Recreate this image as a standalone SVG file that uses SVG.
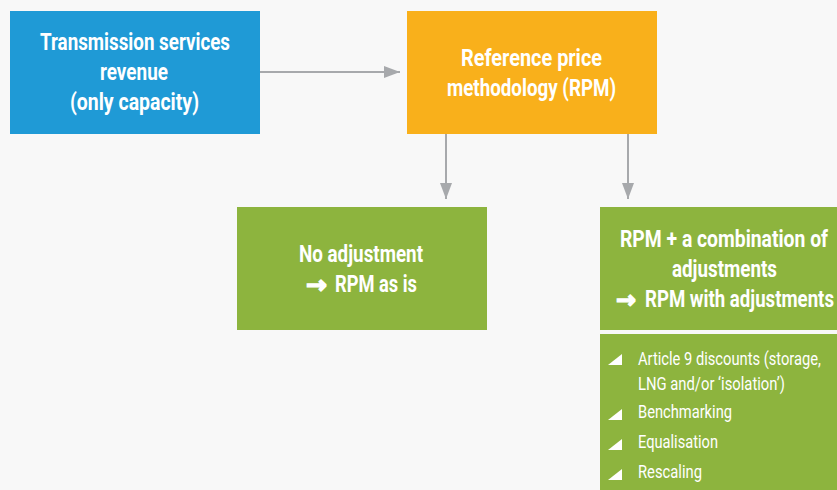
<svg xmlns="http://www.w3.org/2000/svg" width="837" height="490" viewBox="0 0 837 490">
<defs>
<style>
.h{font-family:Roboto,"Liberation Sans",sans-serif;font-weight:bold;font-size:23px;fill:#fff;}
.l{font-family:Roboto,"Liberation Sans",sans-serif;font-size:17.5px;fill:#fff;}
.ar{font-family:"DejaVu Sans",sans-serif;font-weight:bold;font-size:24px;fill:#fff;stroke:#fff;stroke-width:1.4;}
.c{fill:none;stroke:#A7A9AC;stroke-width:2;}
</style>
<marker id="ah" viewBox="0 0 16 12" refX="16" refY="6" markerWidth="16" markerHeight="12" markerUnits="userSpaceOnUse" orient="auto">
<path d="M0,0 L16,6 L0,12 Z" fill="#A7A9AC"/>
</marker>
</defs>
<rect width="837" height="490" fill="#F8F8F8"/>
<g id="connectors">
<line class="c" x1="260" y1="72" x2="400" y2="72" marker-end="url(#ah)"/>
<line class="c" x1="446" y1="134" x2="446" y2="199" marker-end="url(#ah)"/>
<line class="c" x1="628" y1="134" x2="628" y2="199" marker-end="url(#ah)"/>
</g>
<g id="revenue">
<rect x="10" y="11" width="250" height="123" fill="#1F9AD6"/>
<text class="h" x="40" y="50" textLength="190" lengthAdjust="spacingAndGlyphs">Transmission services</text>
<text class="h" x="100" y="80" textLength="68" lengthAdjust="spacingAndGlyphs">revenue</text>
<text class="h" x="70" y="110" textLength="129" lengthAdjust="spacingAndGlyphs">(only capacity)</text>
</g>
<g id="rpm">
<rect x="407" y="11" width="250" height="123" fill="#F9B01B"/>
<text class="h" x="461" y="66" textLength="141" lengthAdjust="spacingAndGlyphs">Reference price</text>
<text class="h" x="447" y="96" textLength="169" lengthAdjust="spacingAndGlyphs">methodology (RPM)</text>
</g>
<g id="no-adjustment">
<rect x="237" y="207" width="250" height="123" fill="#8DB43E"/>
<text class="h" x="299" y="262" textLength="124" lengthAdjust="spacingAndGlyphs">No adjustment</text>
<text class="ar" x="306" y="293" textLength="21" lengthAdjust="spacingAndGlyphs">→</text>
<text class="h" x="335" y="292" textLength="82" lengthAdjust="spacingAndGlyphs">RPM as is</text>
</g>
<g id="rpm-adjustments">
<rect x="600" y="207" width="237" height="123" fill="#8DB43E"/>
<g transform="scale(0.85,1)">
<text class="h" x="729.41" y="247" textLength="244.71" lengthAdjust="spacingAndGlyphs">RPM + a combination of</text>
<text class="h" x="790.59" y="277" textLength="123.53" lengthAdjust="spacingAndGlyphs">adjustments</text>
<text class="ar" x="724.71" y="308" textLength="23.53" lengthAdjust="spacingAndGlyphs">→</text>
</g>
<g transform="scale(0.74,1)">
<text class="h" x="871.62" y="307" textLength="255.41" lengthAdjust="spacingAndGlyphs">RPM with adjustments</text>
</g>
</g>
<g id="adjustment-list">
<rect x="600" y="334" width="237" height="156" fill="#8DB43E"/>
<g fill="#fff">
<path d="M608,365 L622,354 L622,365 Z"/>
<path d="M608,420 L622,409 L622,420 Z"/>
<path d="M608,450 L622,439 L622,450 Z"/>
<path d="M608,480 L622,469 L622,480 Z"/>
</g>
<g transform="scale(0.85,1)">
<text class="l" x="750.59" y="365" textLength="215.29" lengthAdjust="spacingAndGlyphs">Article 9 discounts (storage,</text>
<text class="l" x="750.59" y="390" textLength="172.94" lengthAdjust="spacingAndGlyphs">LNG and/or ‘isolation’)</text>
<text class="l" x="750.59" y="418" textLength="110.59" lengthAdjust="spacingAndGlyphs">Benchmarking</text>
<text class="l" x="750.59" y="448" textLength="94.12" lengthAdjust="spacingAndGlyphs">Equalisation</text>
<text class="l" x="750.59" y="478" textLength="75.29" lengthAdjust="spacingAndGlyphs">Rescaling</text>
</g>
</g>
</svg>
